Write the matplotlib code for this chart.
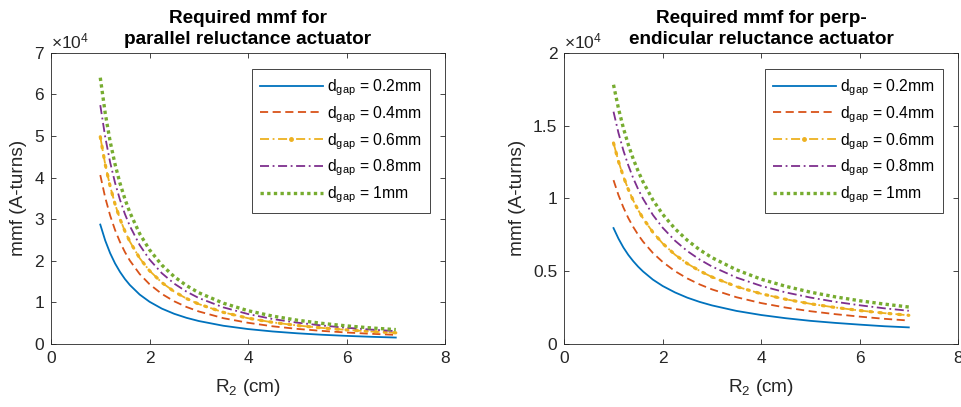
import matplotlib
matplotlib.use("Agg")
import matplotlib.pyplot as plt
from matplotlib.lines import Line2D
from matplotlib.ticker import FuncFormatter, MultipleLocator

plt.rcParams['font.family'] = ['Liberation Sans', 'DejaVu Sans']
plt.rcParams['mathtext.fontset'] = 'custom'
plt.rcParams['mathtext.rm'] = 'Liberation Sans'
plt.rcParams['mathtext.it'] = 'Liberation Sans:italic'

# outer radius R2 in cm
r2 = [1, 1.1, 1.2, 1.3, 1.4, 1.5, 1.6, 1.8, 2, 2.25, 2.5, 2.75, 3,
      3.5, 4, 4.5, 5, 5.5, 6, 6.5, 7]

gaps = ['0.2', '0.4', '0.6', '0.8', '1']

# parallel actuator, mmf in units of 1e4 A-turns
par_02 = [2.87, 2.488, 2.183, 1.936, 1.733, 1.562, 1.418, 1.188, 1.015, 0.850, 0.726, 0.629, 0.552,
          0.438, 0.359, 0.301, 0.257, 0.222, 0.195, 0.173, 0.155]
par_04 = [4.06, 3.519, 3.088, 2.739, 2.451, 2.210, 2.006, 1.681, 1.436, 1.203, 1.027, 0.890, 0.782,
          0.62, 0.51, 0.425, 0.363, 0.315, 0.276, 0.245, 0.219]
par_06 = [4.98, 4.317, 3.788, 3.360, 3.006, 2.711, 2.461, 2.062, 1.761, 1.476, 1.260, 1.092, 0.959,
          0.76, 0.62, 0.52, 0.445, 0.386, 0.339, 0.300, 0.269]
par_08 = [5.74, 4.975, 4.366, 3.873, 3.465, 3.124, 2.836, 2.377, 2.030, 1.701, 1.452, 1.259, 1.105,
          0.88, 0.72, 0.60, 0.513, 0.445, 0.390, 0.346, 0.310]
par_10 = [6.40, 5.548, 4.868, 4.318, 3.864, 3.484, 3.162, 2.650, 2.263, 1.896, 1.619, 1.404, 1.232,
          0.98, 0.80, 0.67, 0.572, 0.496, 0.435, 0.386, 0.346]

# perpendicular actuator, mmf in units of 1e4 A-turns
perp_02 = [0.796, 0.724, 0.663, 0.612, 0.569, 0.531, 0.498, 0.442, 0.398, 0.354, 0.318, 0.289, 0.265,
           0.227, 0.199, 0.177, 0.159, 0.145, 0.133, 0.122, 0.114]
perp_04 = [1.125, 1.023, 0.938, 0.865, 0.804, 0.750, 0.703, 0.625, 0.563, 0.500, 0.450, 0.409, 0.375,
           0.321, 0.281, 0.250, 0.225, 0.205, 0.188, 0.173, 0.161]
perp_06 = [1.38, 1.255, 1.150, 1.062, 0.986, 0.920, 0.863, 0.767, 0.690, 0.613, 0.552, 0.502, 0.460,
           0.394, 0.345, 0.307, 0.276, 0.251, 0.230, 0.212, 0.197]
perp_08 = [1.595, 1.450, 1.329, 1.227, 1.139, 1.063, 0.997, 0.886, 0.798, 0.709, 0.638, 0.580, 0.532,
           0.456, 0.399, 0.354, 0.319, 0.290, 0.266, 0.245, 0.228]
perp_10 = [1.78, 1.618, 1.483, 1.369, 1.271, 1.187, 1.113, 0.989, 0.890, 0.791, 0.712, 0.647, 0.593,
           0.509, 0.445, 0.396, 0.356, 0.324, 0.297, 0.274, 0.254]

scale = 1e4

colors = ['#0072BD', '#D95319', '#EDB120', '#7E2F8E', '#77AC30']
styles = [
    dict(linestyle='-', linewidth=1.3),
    dict(linestyle=(0, (4.5, 2.5)), linewidth=1.3),
    dict(linestyle=(0, (5, 2, 1, 2)), linewidth=1.3),
    dict(linestyle=(0, (5, 2, 1, 2)), linewidth=1.3),
    dict(linestyle=(0, (1, 1)), linewidth=2.4),
]
ink = '#262626'


def draw_panel(ax, series, title, ymax, ystep):
    for i, ys in enumerate(series):
        vals = [v * scale for v in ys]
        ax.plot(r2, vals, color=colors[i], **styles[i])
        if i == 2:
            # dotted overlay for the marker-studded curve
            ax.plot(r2, vals, color=colors[i], linestyle=(0, (0.6, 2.4)),
                    linewidth=2.3, dash_capstyle='round')
    ax.set_xlim(0, 8)
    ax.set_ylim(0, ymax)
    ax.xaxis.set_major_locator(MultipleLocator(2))
    ax.yaxis.set_major_locator(MultipleLocator(ystep))
    ax.yaxis.set_major_formatter(FuncFormatter(lambda v, p: f'{v / scale:g}'))
    ax.tick_params(direction='in', top=True, right=True, length=3.5, width=0.6,
                   colors=ink, labelsize=12.5, pad=5)
    for s in ax.spines.values():
        s.set_color(ink)
        s.set_linewidth(0.6)
    ax.text(0, 1.005, r'$\times\mathregular{10^4}$', transform=ax.transAxes,
            fontsize=12.5, color=ink, ha='left', va='bottom')
    ax.set_title(title, fontsize=13.7, fontweight='bold', pad=6, linespacing=1.3)
    ax.set_xlabel(r'R$_\mathrm{2}$ (cm)', fontsize=13.7, color=ink, labelpad=8)
    ax.set_ylabel('mmf (A-turns)', fontsize=13.7, color=ink, labelpad=5)

    handles = []
    for i in range(5):
        if i == 2:
            handles.append(Line2D([], [], color=colors[i], marker='.', markersize=5,
                                  **styles[i]))
        else:
            handles.append(Line2D([], [], color=colors[i], **styles[i]))
    labels = [r'd$_\mathrm{gap}$ = ' + g + 'mm' for g in gaps]
    leg = ax.legend(handles, labels, loc='upper right', bbox_to_anchor=(0.962, 0.943),
                    fontsize=11.3, handlelength=4.0, handletextpad=0.3,
                    labelspacing=0.4, borderpad=0.5, borderaxespad=0,
                    fancybox=False, framealpha=1, edgecolor=ink)
    leg.get_frame().set_linewidth(0.6)


fig = plt.figure(figsize=(9.61, 4.07), dpi=100)
ax1 = fig.add_axes([0.0531, 0.1548, 0.41, 0.7157])
ax2 = fig.add_axes([0.5872, 0.1548, 0.4097, 0.7157])

draw_panel(ax1, [par_02, par_04, par_06, par_08, par_10],
           'Required mmf for\nparallel reluctance actuator', 7e4, 1e4)
draw_panel(ax2, [perp_02, perp_04, perp_06, perp_08, perp_10],
           'Required mmf for perp-\nendicular reluctance actuator', 2e4, 0.5e4)

fig.savefig('out.png', dpi=100)
